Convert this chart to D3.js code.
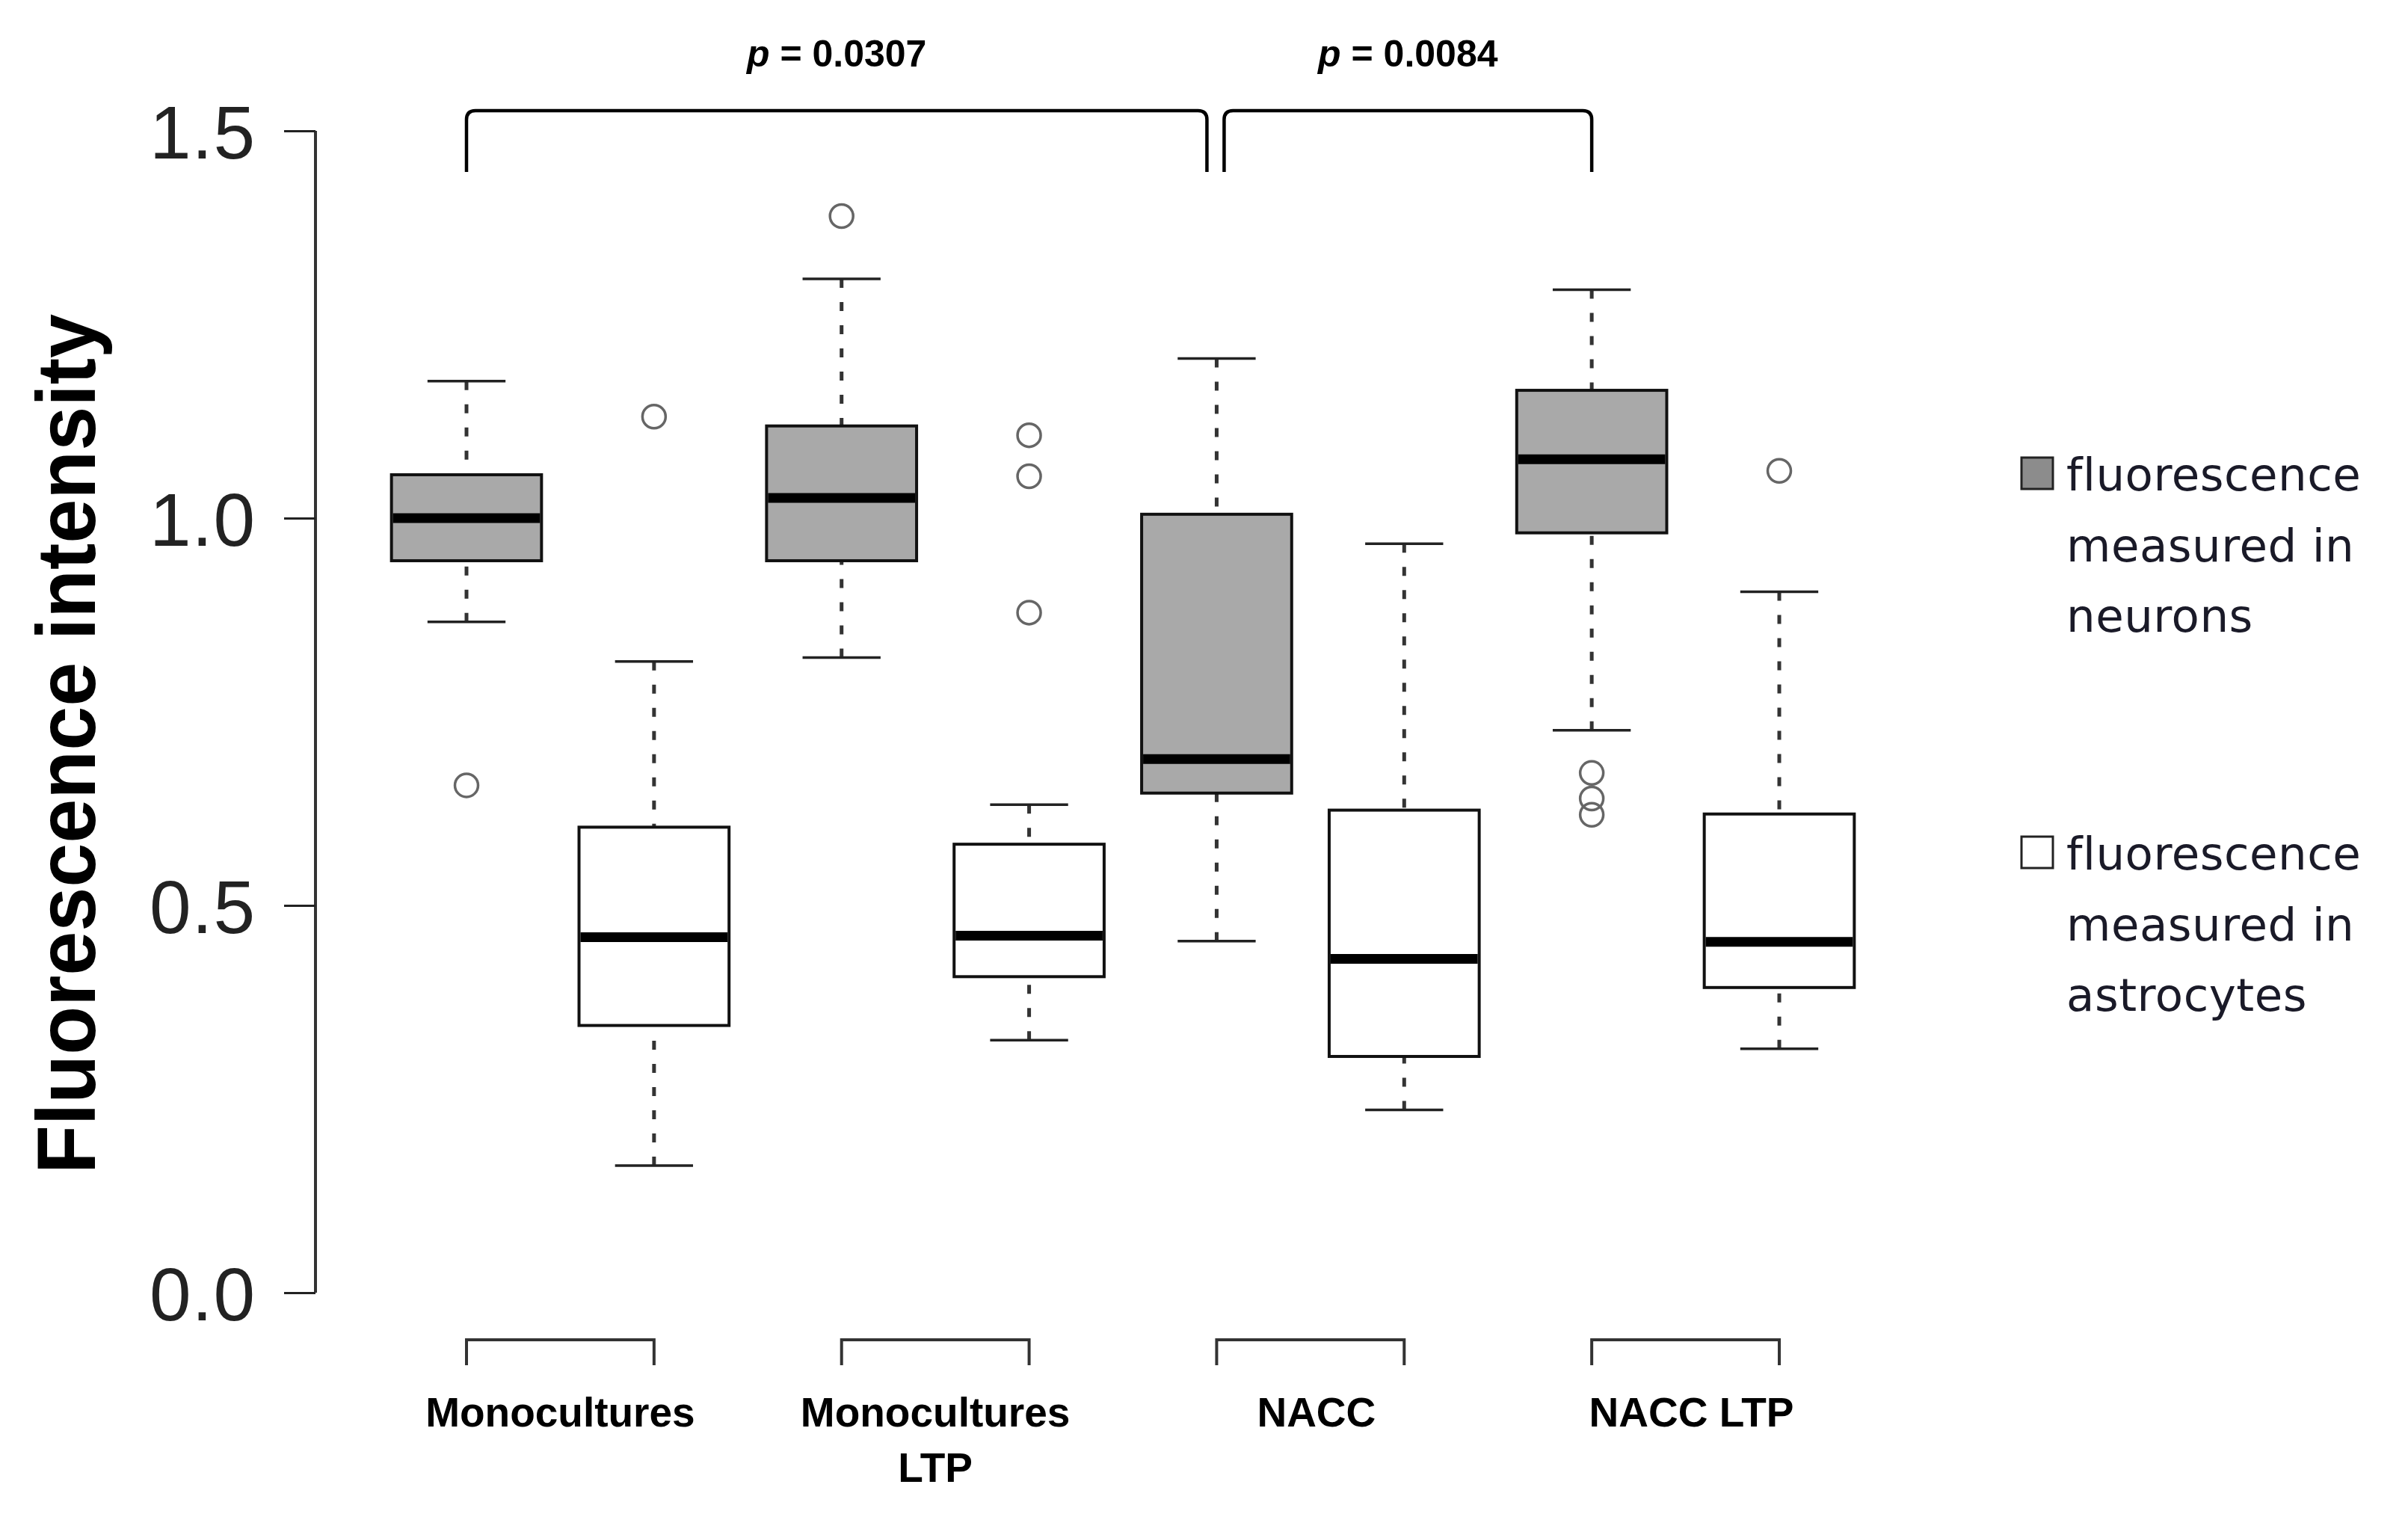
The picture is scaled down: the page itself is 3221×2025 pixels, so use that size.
<!DOCTYPE html>
<html>
<head>
<meta charset="utf-8">
<script src="https://cdn.jsdelivr.net/npm/d3@7"></script>
<style>
  html, body { margin: 0; padding: 0; background: #ffffff; }
  svg { display: block; }
</style>
</head>
<body>
<script>
// ---------------- data ----------------
const categories = ["Monocultures", "Monocultures LTP", "NACC", "NACC LTP"];
const categoryLines = [["Monocultures"], ["Monocultures", "LTP"], ["NACC"], ["NACC LTP"]];
const seriesNames = ["fluorescence measured in neurons", "fluorescence measured in astrocytes"];
const legendLines = [["fluorescence", "measured in", "neurons"], ["fluorescence", "measured in", "astrocytes"]];

// five-number summaries per category [lowerWhisker, Q1, median, Q3, upperWhisker]
const neuronStats = [
  [0.866, 0.945, 1.000, 1.056, 1.177],
  [0.820, 0.945, 1.026, 1.119, 1.309],
  [0.454, 0.645, 0.689, 1.005, 1.206],
  [0.726, 0.981, 1.076, 1.165, 1.295]
];
const astroStats = [
  [0.164, 0.345, 0.459, 0.601, 0.815],
  [0.326, 0.408, 0.461, 0.579, 0.630],
  [0.236, 0.305, 0.431, 0.623, 0.967],
  [0.315, 0.394, 0.453, 0.618, 0.905]
];
const neuronOutliers = [[0.655], [1.390], [], [0.671, 0.638, 0.617]];
const astroOutliers = [[1.131], [1.107, 1.054, 0.878], [], [1.061]];

const yTicks = [0.0, 0.5, 1.0, 1.5];
const yTickLabels = ["0.0", "0.5", "1.0", "1.5"];
const yTitle = "Fluorescence intensity";

// significance brackets: from box, to box, p value (box index 1..8)
const sigFrom = [1, 5];
const sigTo = [5, 7];
const sigP = ["0.0307", "0.0084"];

// ---------------- layout ----------------
const W = 3221, H = 2025;
const svg = d3.select("body").append("svg").attr("width", W).attr("height", H);
svg.append("rect").attr("width", W).attr("height", H).attr("fill", "#fff");

const x = d3.scaleLinear().domain([1, 8]).range([624, 2380]);
const y = d3.scaleLinear().domain([0, 1.5]).range([1729, 175]);
const step = x(2) - x(1);
const boxW = 0.8 * step;
const capW = 0.5 * boxW;

const boxes = [];
categories.forEach((c, i) => {
  boxes.push({pos: 2 * i + 1, s: neuronStats[i], out: neuronOutliers[i], fill: "#a9a9a9"});
  boxes.push({pos: 2 * i + 2, s: astroStats[i], out: astroOutliers[i], fill: "#ffffff"});
});

// ---------------- y axis ----------------
const axisG = svg.append("g").attr("transform", "translate(422,0)");
const yAxis = d3.axisLeft(y).tickValues(yTicks).tickSize(42).tickSizeOuter(0)
  .tickFormat((d, i) => yTickLabels[i]);
axisG.call(yAxis);
axisG.select(".domain").attr("stroke", "#333").attr("stroke-width", 4)
  .attr("d", `M0,${y(1.5)}V${y(0)}`);
axisG.selectAll(".tick line").attr("stroke", "#222").attr("stroke-width", 3);
axisG.selectAll(".tick text")
  .attr("x", -80)
  .attr("dy", "0.36em")
  .attr("fill", "#222")
  .attr("font-family", "'Liberation Sans', Arial, sans-serif")
  .attr("font-size", 100)
  .attr("letter-spacing", 1)
  .attr("text-anchor", "end");

svg.append("text")
  .attr("transform", `translate(127,${995}) rotate(-90)`)
  .attr("text-anchor", "middle")
  .attr("font-family", "'Liberation Sans', Arial, sans-serif")
  .attr("font-weight", "bold")
  .attr("font-size", 112)
  .attr("textLength", 1150)
  .attr("lengthAdjust", "spacingAndGlyphs")
  .attr("fill", "#000")
  .text(yTitle);

// ---------------- boxes ----------------
const g = svg.append("g");
const bx = g.selectAll("g.box").data(boxes).enter().append("g").attr("class", "box");

bx.append("line")
  .attr("x1", d => x(d.pos)).attr("x2", d => x(d.pos))
  .attr("y1", d => y(d.s[4])).attr("y2", d => y(d.s[3]))
  .attr("stroke", "#333").attr("stroke-width", 5).attr("stroke-dasharray", "12,19");
bx.append("line")
  .attr("x1", d => x(d.pos)).attr("x2", d => x(d.pos))
  .attr("y1", d => y(d.s[0])).attr("y2", d => y(d.s[1]))
  .attr("stroke", "#333").attr("stroke-width", 5).attr("stroke-dasharray", "12,19");
bx.append("line")
  .attr("x1", d => x(d.pos) - capW / 2 - 2).attr("x2", d => x(d.pos) + capW / 2 + 2)
  .attr("y1", d => y(d.s[4])).attr("y2", d => y(d.s[4]))
  .attr("stroke", "#222").attr("stroke-width", 3.5);
bx.append("line")
  .attr("x1", d => x(d.pos) - capW / 2 - 2).attr("x2", d => x(d.pos) + capW / 2 + 2)
  .attr("y1", d => y(d.s[0])).attr("y2", d => y(d.s[0]))
  .attr("stroke", "#222").attr("stroke-width", 3.5);
bx.append("rect")
  .attr("x", d => x(d.pos) - boxW / 2)
  .attr("width", boxW)
  .attr("y", d => y(d.s[3]))
  .attr("height", d => y(d.s[1]) - y(d.s[3]))
  .attr("fill", d => d.fill)
  .attr("stroke", "#111").attr("stroke-width", 4);
bx.append("line")
  .attr("x1", d => x(d.pos) - boxW / 2 + 2).attr("x2", d => x(d.pos) + boxW / 2 - 2)
  .attr("y1", d => y(d.s[2])).attr("y2", d => y(d.s[2]))
  .attr("stroke", "#000").attr("stroke-width", 13);
bx.each(function (d) {
  d3.select(this).selectAll("circle").data(d.out).enter().append("circle")
    .attr("cx", x(d.pos)).attr("cy", v => y(v)).attr("r", 15.5)
    .attr("fill", "none").attr("stroke", "#666").attr("stroke-width", 3.5);
});

// ---------------- category brackets & labels ----------------
const catG = svg.append("g");
categories.forEach((c, i) => {
  const x0 = x(2 * i + 1), x1 = x(2 * i + 2);
  catG.append("path")
    .attr("d", `M${x0},1826V1792H${x1}V1826`)
    .attr("fill", "none").attr("stroke", "#333").attr("stroke-width", 4);
  const t = catG.append("text")
    .attr("text-anchor", "middle")
    .attr("font-family", "'Liberation Sans', Arial, sans-serif")
    .attr("font-weight", "bold")
    .attr("font-size", 55)
    .attr("fill", "#000");
  categoryLines[i].forEach((ln, j) => {
    t.append("tspan").attr("x", (x0 + x1) / 2 + (i >= 2 ? 8 : 0)).attr("y", 1908 + j * 74).text(ln);
  });
});

// ---------------- significance brackets ----------------
const sigG = svg.append("g");
sigFrom.forEach((f, i) => {
  let x0 = x(f), x1 = x(sigTo[i]);
  if (i === 0) x1 -= 13; else x0 += 10;
  const top = 148, bot = 230, r = 12;
  sigG.append("path")
    .attr("d", `M${x0},${bot}V${top + r}Q${x0},${top} ${x0 + r},${top}H${x1 - r}Q${x1},${top} ${x1},${top + r}V${bot}`)
    .attr("fill", "none").attr("stroke", "#000").attr("stroke-width", 4.5);
  const t = sigG.append("text")
    .attr("x", (x0 + x1) / 2).attr("y", 89)
    .attr("text-anchor", "middle")
    .attr("font-family", "'Liberation Sans', Arial, sans-serif")
    .attr("font-weight", "bold")
    .attr("font-size", 50)
    .attr("fill", "#000");
  t.append("tspan").attr("font-style", "italic").text("p");
  t.append("tspan").text(" = " + sigP[i]);
});

// ---------------- legend ----------------
const legG = svg.append("g");
const legendFill = ["#8c8c8c", "#ffffff"];
const legendBase = [656, 1163];
legendLines.forEach((lines, i) => {
  legG.append("rect")
    .attr("x", 2704).attr("y", legendBase[i] - 44).attr("width", 42).attr("height", 42)
    .attr("fill", legendFill[i]).attr("stroke", "#222").attr("stroke-width", 3);
  const t = legG.append("text")
    .attr("font-family", "'DejaVu Sans', sans-serif")
    .attr("font-size", 61)
    .attr("letter-spacing", 0.5)
    .attr("fill", "#1a1a28");
  lines.forEach((ln, j) => {
    t.append("tspan").attr("x", 2764).attr("y", legendBase[i] + j * 94.5).text(ln);
  });
});
</script>
</body>
</html>
